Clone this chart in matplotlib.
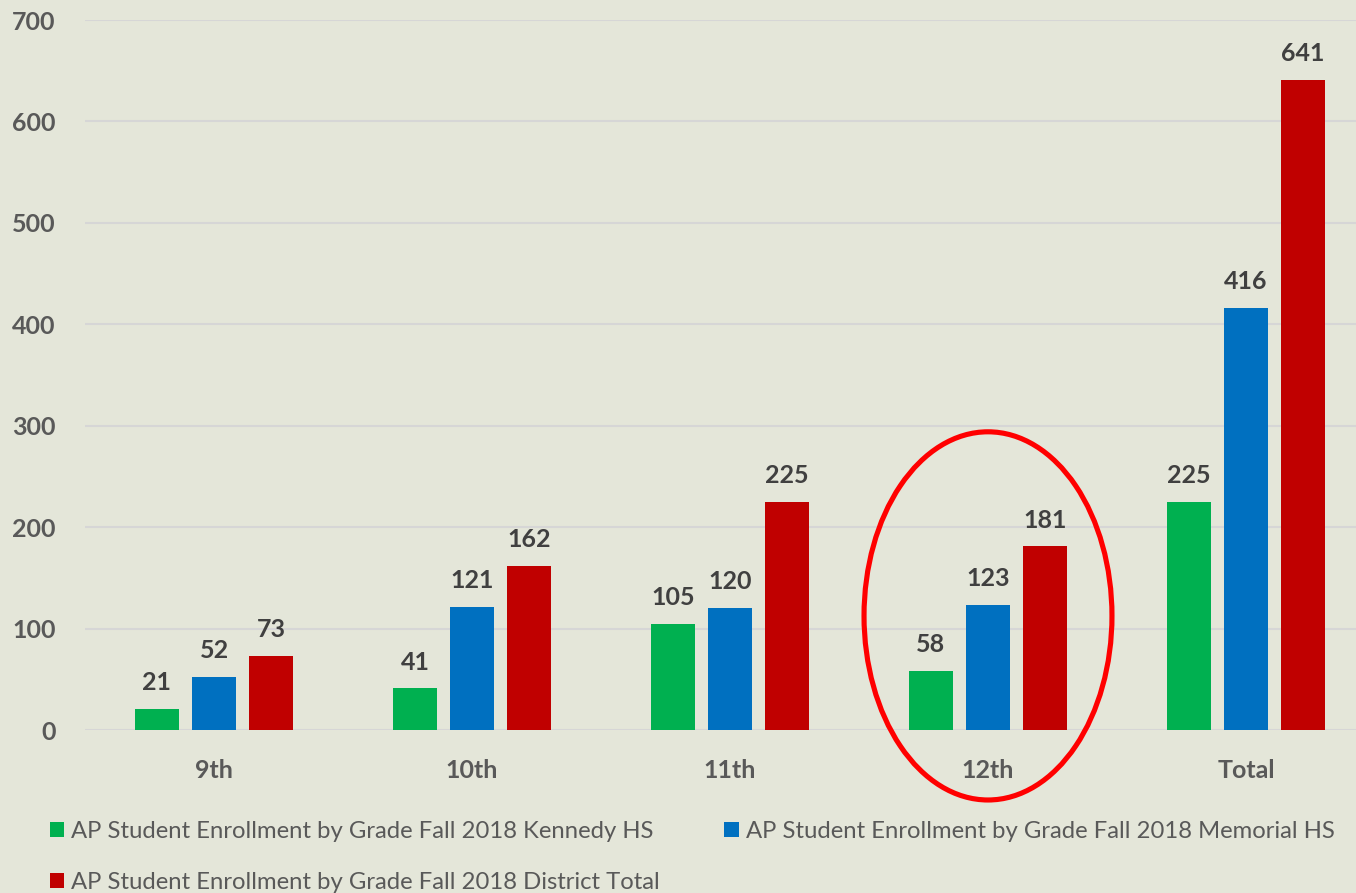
import matplotlib.pyplot as plt
from matplotlib.patches import Ellipse, Patch
import numpy as np

# Datos del grafico
grados = ['9th', '10th', '11th', '12th', 'Total']
kennedy = [21, 41, 105, 58, 225]
memorial = [52, 121, 120, 123, 416]
distrito = [73, 162, 225, 181, 641]
series_nombres = [
    'AP Student Enrollment by Grade Fall 2018 Kennedy HS',
    'AP Student Enrollment by Grade Fall 2018 Memorial HS',
    'AP Student Enrollment by Grade Fall 2018 District Total',
]
colores = ['#00B050', '#0070C0', '#C00000']
yticks = [0, 100, 200, 300, 400, 500, 600, 700]

FONDO = '#E4E6D9'
plt.rcParams['font.family'] = ['Lato', 'DejaVu Sans']

fig = plt.figure(figsize=(13.56, 8.93), dpi=100, facecolor=FONDO)
ax = fig.add_axes([85 / 1356, 1 - 730 / 893, 1290 / 1356, 710 / 893])
ax.set_facecolor(FONDO)

x = np.arange(len(grados))
ancho = 0.174
paso = 0.221
for i, (valores, color) in enumerate(zip([kennedy, memorial, distrito], colores)):
    pos = x + (i - 1) * paso
    ax.bar(pos, valores, width=ancho, color=color, zorder=3)
    for xp, v in zip(pos, valores):
        ax.annotate(f'{v}', (xp, v), xytext=(0, 19), textcoords='offset points',
                    ha='center', va='center', fontsize=18, fontweight='bold',
                    color='#404040')

ax.set_xlim(-0.5, len(grados) - 0.5)
ax.set_ylim(0, 700)
ax.set_yticks(yticks)
ax.set_xticks(x)
ax.set_xticklabels(grados)
ax.grid(axis='y', color='#D6D6D6', linewidth=1.5, zorder=0)
for s in ax.spines.values():
    s.set_visible(False)
ax.tick_params(axis='both', length=0, labelsize=18, labelcolor='#595959')
ax.tick_params(axis='y', pad=21)
ax.tick_params(axis='x', pad=21)
for lbl in ax.get_xticklabels() + ax.get_yticklabels():
    lbl.set_fontweight('bold')

# Elipse roja alrededor de 12th
elipse = Ellipse((3, 112.5), 0.961, 363, fill=False, edgecolor='#FF0000',
                 linewidth=3.7, clip_on=False, zorder=5)
ax.add_patch(elipse)

# Leyenda (orden por filas: Kennedy, Memorial / District)
handles = [Patch(facecolor=c, edgecolor='none') for c in colores]
orden = [0, 2, 1]
fig.legend([handles[i] for i in orden], [series_nombres[i] for i in orden],
           loc='upper left', ncol=2,
           bbox_to_anchor=(40 / 1356, 1 - 811 / 893), frameon=False,
           fontsize=17.2, labelcolor='#595959', handlelength=0.6,
           handleheight=0.6, handletextpad=0.3, columnspacing=2.7,
           labelspacing=1.27, borderaxespad=0)

fig.savefig('out.png', dpi=100, facecolor=FONDO)
